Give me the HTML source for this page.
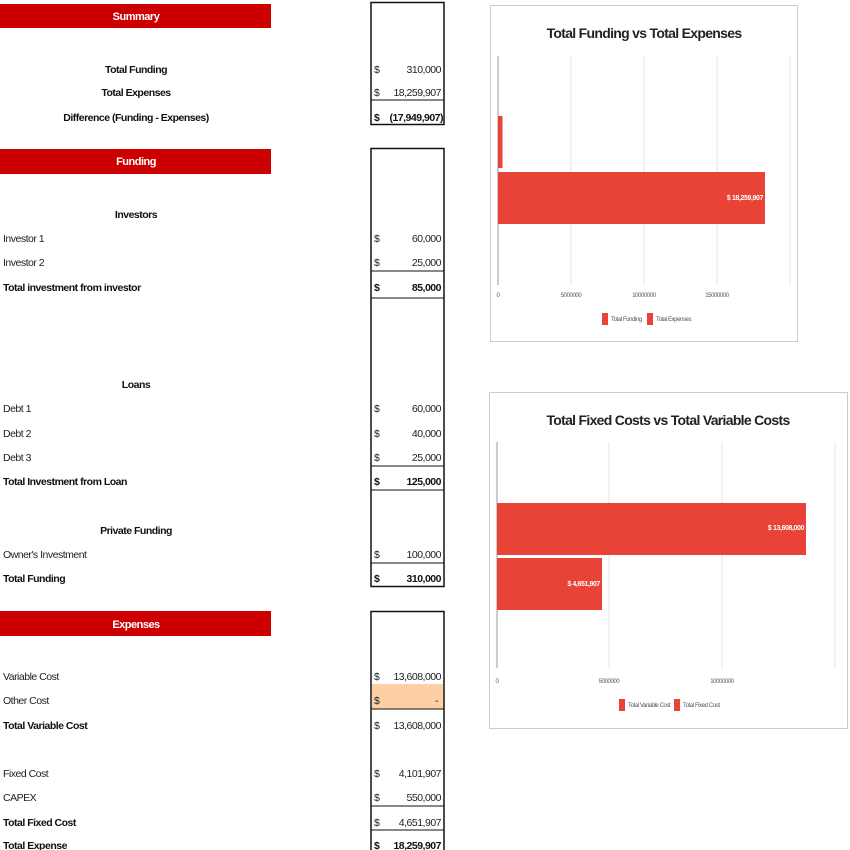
<!DOCTYPE html>
<html><head><meta charset="utf-8"><style>
html,body{margin:0;padding:0;background:#fff;}
svg{display:block;font-family:"Liberation Sans",sans-serif;}
.l{font-size:10.5px;fill:#222;letter-spacing:-0.5px;}
.b{font-size:10.5px;fill:#111;font-weight:bold;letter-spacing:-0.5px;}
.h{font-size:11px;fill:#fff;font-weight:bold;letter-spacing:-0.5px;}
.t{font-size:6px;fill:#555;letter-spacing:-0.4px;}
</style></head><body>
<svg width="850" height="850" viewBox="0 0 850 850">
<rect x="0" y="4" width="271" height="24" fill="#cc0000"/>
<text x="136" y="20" class="h" text-anchor="middle">Summary</text>
<rect x="0" y="149" width="271" height="25" fill="#cc0000"/>
<text x="136" y="165" class="h" text-anchor="middle">Funding</text>
<rect x="0" y="611" width="271" height="25" fill="#cc0000"/>
<text x="136" y="628" class="h" text-anchor="middle">Expenses</text>

<g fill="none" stroke="#111">
<rect x="371" y="2.5" width="73" height="122" stroke-width="1.5"/>
<line x1="371" y1="100" x2="444" y2="100"/>
<rect x="371" y="148.5" width="73" height="438" stroke-width="1.5"/>
<line x1="371" y1="271" x2="444" y2="271"/>
<line x1="371" y1="298" x2="444" y2="298"/>
<line x1="371" y1="466" x2="444" y2="466"/>
<line x1="371" y1="490" x2="444" y2="490"/>
<line x1="371" y1="563" x2="444" y2="563"/>
<rect x="371" y="611.5" width="73" height="245" stroke-width="1.5"/>
</g>
<rect x="372" y="684" width="71" height="25" fill="#fcd0a4"/>
<g stroke="#111" fill="none">
<line x1="371" y1="709" x2="444" y2="709"/>
<line x1="371" y1="806" x2="444" y2="806"/>
<line x1="371" y1="830" x2="444" y2="830"/>
</g>

<text x="136" y="73" class="b" text-anchor="middle">Total Funding</text>
<text x="136" y="96" class="b" text-anchor="middle">Total Expenses</text>
<text x="136" y="121" class="b" text-anchor="middle">Difference (Funding - Expenses)</text>
<g class="l">
<text x="374" y="73">$</text><text x="441" y="73" text-anchor="end">310,000</text>
<text x="374" y="96">$</text><text x="441" y="96" text-anchor="end">18,259,907</text>
</g>
<text x="374" y="121" class="b">$</text><text x="443" y="121" class="b" text-anchor="end">(17,949,907)</text>

<text x="136" y="218" class="b" text-anchor="middle">Investors</text>
<text x="3" y="242" class="l">Investor 1</text><text x="374" y="242" class="l">$</text><text x="441" y="242" class="l" text-anchor="end">60,000</text>
<text x="3" y="266" class="l">Investor 2</text><text x="374" y="266" class="l">$</text><text x="441" y="266" class="l" text-anchor="end">25,000</text>
<text x="3" y="291" class="b">Total investment from investor</text><text x="374" y="291" class="b">$</text><text x="441" y="291" class="b" text-anchor="end">85,000</text>

<text x="136" y="388" class="b" text-anchor="middle">Loans</text>
<text x="3" y="412" class="l">Debt 1</text><text x="374" y="412" class="l">$</text><text x="441" y="412" class="l" text-anchor="end">60,000</text>
<text x="3" y="437" class="l">Debt 2</text><text x="374" y="437" class="l">$</text><text x="441" y="437" class="l" text-anchor="end">40,000</text>
<text x="3" y="461" class="l">Debt 3</text><text x="374" y="461" class="l">$</text><text x="441" y="461" class="l" text-anchor="end">25,000</text>
<text x="3" y="485" class="b">Total Investment from Loan</text><text x="374" y="485" class="b">$</text><text x="441" y="485" class="b" text-anchor="end">125,000</text>

<text x="136" y="534" class="b" text-anchor="middle">Private Funding</text>
<text x="3" y="558" class="l">Owner's Investment</text><text x="374" y="558" class="l">$</text><text x="441" y="558" class="l" text-anchor="end">100,000</text>
<text x="3" y="582" class="b">Total Funding</text><text x="374" y="582" class="b">$</text><text x="441" y="582" class="b" text-anchor="end">310,000</text>

<text x="3" y="680" class="l">Variable Cost</text><text x="374" y="680" class="l">$</text><text x="441" y="680" class="l" text-anchor="end">13,608,000</text>
<text x="3" y="704" class="l">Other Cost</text><text x="374" y="704" class="l">$</text><text x="438" y="704" class="l" text-anchor="end">-</text>
<text x="3" y="729" class="b">Total Variable Cost</text><text x="374" y="729" class="l">$</text><text x="441" y="729" class="l" text-anchor="end">13,608,000</text>
<text x="3" y="777" class="l">Fixed Cost</text><text x="374" y="777" class="l">$</text><text x="441" y="777" class="l" text-anchor="end">4,101,907</text>
<text x="3" y="801" class="l">CAPEX</text><text x="374" y="801" class="l">$</text><text x="441" y="801" class="l" text-anchor="end">550,000</text>
<text x="3" y="826" class="b">Total Fixed Cost</text><text x="374" y="826" class="l">$</text><text x="441" y="826" class="l" text-anchor="end">4,651,907</text>
<text x="3" y="849" class="b">Total Expense</text><text x="374" y="849" class="b">$</text><text x="441" y="849" class="b" text-anchor="end">18,259,907</text>

<rect x="490.5" y="5.5" width="307" height="336" fill="#fff" stroke="#ccc"/>
<text x="644" y="38" text-anchor="middle" style="font-size:14px;font-weight:bold;fill:#222;letter-spacing:-0.7px">Total Funding vs Total Expenses</text>
<g stroke="#e4e4e4"><line x1="571" y1="56" x2="571" y2="285"/><line x1="644" y1="56" x2="644" y2="285"/><line x1="717" y1="56" x2="717" y2="285"/><line x1="790" y1="56" x2="790" y2="285"/></g>
<line x1="498" y1="56" x2="498" y2="285" stroke="#999"/>
<rect x="498" y="116" width="4.5" height="52" fill="#e84336"/>
<rect x="498" y="172" width="267" height="52" fill="#e84336"/>
<text x="763" y="200" text-anchor="end" style="font-size:7px;fill:#fff;font-weight:bold;letter-spacing:-0.4px">$ 18,259,907</text>
<text x="498" y="297" class="t" text-anchor="middle">0</text>
<text x="571" y="297" class="t" text-anchor="middle">5000000</text>
<text x="644" y="297" class="t" text-anchor="middle">10000000</text>
<text x="717" y="297" class="t" text-anchor="middle">15000000</text>
<rect x="602" y="313" width="6" height="12" fill="#e84336"/><text x="611" y="321" class="t">Total Funding</text>
<rect x="647" y="313" width="6" height="12" fill="#e84336"/><text x="656" y="321" class="t">Total Expenses</text>

<rect x="489.5" y="392.5" width="358" height="336" fill="#fff" stroke="#ccc"/>
<text x="668" y="425" text-anchor="middle" style="font-size:14px;font-weight:bold;fill:#222;letter-spacing:-0.7px">Total Fixed Costs vs Total Variable Costs</text>
<g stroke="#e4e4e4"><line x1="609" y1="442" x2="609" y2="668"/><line x1="722" y1="442" x2="722" y2="668"/><line x1="835" y1="442" x2="835" y2="668"/></g>
<line x1="497" y1="442" x2="497" y2="668" stroke="#999"/>
<rect x="497" y="503" width="309" height="52" fill="#e84336"/>
<text x="804" y="530" text-anchor="end" style="font-size:7px;fill:#fff;font-weight:bold;letter-spacing:-0.4px">$ 13,608,000</text>
<rect x="497" y="558" width="105" height="52" fill="#e84336"/>
<text x="600" y="586" text-anchor="end" style="font-size:7px;fill:#fff;font-weight:bold;letter-spacing:-0.4px">$ 4,651,907</text>
<text x="497" y="683" class="t" text-anchor="middle">0</text>
<text x="609" y="683" class="t" text-anchor="middle">5000000</text>
<text x="722" y="683" class="t" text-anchor="middle">10000000</text>
<rect x="619" y="699" width="6" height="12" fill="#e84336"/><text x="628" y="707" class="t">Total Variable Cost</text>
<rect x="674" y="699" width="6" height="12" fill="#e84336"/><text x="683" y="707" class="t">Total Fixed Cost</text>
</svg>
</body></html>
